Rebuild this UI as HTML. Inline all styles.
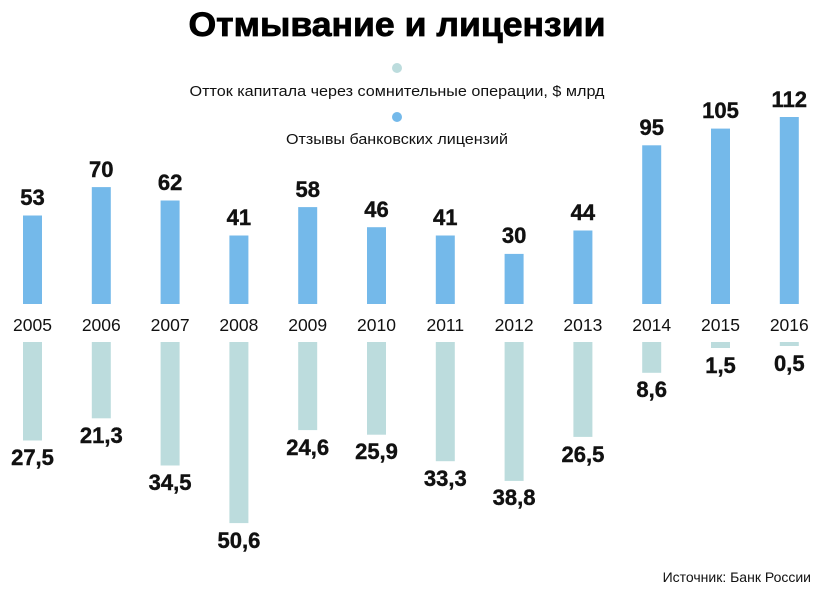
<!DOCTYPE html>
<html><head><meta charset="utf-8"><style>
html,body{margin:0;padding:0;background:#fff}
svg{display:block}
text{font-family:"Liberation Sans","DejaVu Sans",sans-serif}
.v{font-weight:bold;font-size:22px;fill:#111;text-anchor:middle;stroke:#111;stroke-width:0.4}
.y{font-size:17.5px;fill:#111;text-anchor:middle}
</style></head><body>
<svg width="820" height="592" viewBox="0 0 820 592">
<text x="397" y="36" font-size="34" font-weight="bold" text-anchor="middle" textLength="417" lengthAdjust="spacingAndGlyphs" fill="#000" stroke="#000" stroke-width="0.8">Отмывание и лицензии</text>
<circle cx="397" cy="68" r="5" fill="#bcdcdd"/>
<text x="397" y="96" font-size="15" text-anchor="middle" textLength="415" lengthAdjust="spacingAndGlyphs" fill="#111">Отток капитала через сомнительные операции, $ млрд</text>
<circle cx="397" cy="117" r="5" fill="#74b9ea"/>
<text x="397" y="144" font-size="15" text-anchor="middle" textLength="222" lengthAdjust="spacingAndGlyphs" fill="#111">Отзывы банковских лицензий</text>
<g fill="#74b9ea">
<rect x="23" y="215.5" width="19" height="88.5"/>
<rect x="91.8" y="187.1" width="19" height="116.9"/>
<rect x="160.6" y="200.5" width="19" height="103.5"/>
<rect x="229.4" y="235.5" width="19" height="68.5"/>
<rect x="298.2" y="207.1" width="19" height="96.9"/>
<rect x="367" y="227.2" width="19" height="76.8"/>
<rect x="435.8" y="235.5" width="19" height="68.5"/>
<rect x="504.6" y="253.9" width="19" height="50.1"/>
<rect x="573.4" y="230.5" width="19" height="73.5"/>
<rect x="642.2" y="145.3" width="19" height="158.7"/>
<rect x="711" y="128.6" width="19" height="175.4"/>
<rect x="779.8" y="117" width="19" height="187"/>
</g>
<g fill="#bcdcdd">
<rect x="23" y="342" width="19" height="98.5"/>
<rect x="91.8" y="342" width="19" height="76.3"/>
<rect x="160.6" y="342" width="19" height="123.5"/>
<rect x="229.4" y="342" width="19" height="181.1"/>
<rect x="298.2" y="342" width="19" height="88.1"/>
<rect x="367" y="342" width="19" height="92.7"/>
<rect x="435.8" y="342" width="19" height="119.2"/>
<rect x="504.6" y="342" width="19" height="138.9"/>
<rect x="573.4" y="342" width="19" height="94.9"/>
<rect x="642.2" y="342" width="19" height="30.8"/>
<rect x="711" y="342" width="19" height="6"/>
<rect x="779.8" y="342" width="19" height="4"/>
</g>
<g class="v">
<text x="32.5" y="205">53</text>
<text x="101.3" y="177">70</text>
<text x="170.1" y="190">62</text>
<text x="238.9" y="225">41</text>
<text x="307.7" y="197">58</text>
<text x="376.5" y="217">46</text>
<text x="445.3" y="225">41</text>
<text x="514.1" y="243">30</text>
<text x="582.9" y="220">44</text>
<text x="651.7" y="135">95</text>
<text x="720.5" y="118">105</text>
<text x="789.3" y="107">112</text>
<text x="32.5" y="465">27,5</text>
<text x="101.3" y="443">21,3</text>
<text x="170.1" y="490">34,5</text>
<text x="238.9" y="548">50,6</text>
<text x="307.7" y="455">24,6</text>
<text x="376.5" y="459">25,9</text>
<text x="445.3" y="486">33,3</text>
<text x="514.1" y="505">38,8</text>
<text x="582.9" y="462">26,5</text>
<text x="651.7" y="397">8,6</text>
<text x="720.5" y="373">1,5</text>
<text x="789.3" y="371">0,5</text>
</g>
<g class="y">
<text x="32.5" y="331">2005</text>
<text x="101.3" y="331">2006</text>
<text x="170.1" y="331">2007</text>
<text x="238.9" y="331">2008</text>
<text x="307.7" y="331">2009</text>
<text x="376.5" y="331">2010</text>
<text x="445.3" y="331">2011</text>
<text x="514.1" y="331">2012</text>
<text x="582.9" y="331">2013</text>
<text x="651.7" y="331">2014</text>
<text x="720.5" y="331">2015</text>
<text x="789.3" y="331">2016</text>
</g>
<text x="811" y="582" font-size="14" text-anchor="end" fill="#111">Источник: Банк России</text>
</svg>
</body></html>
